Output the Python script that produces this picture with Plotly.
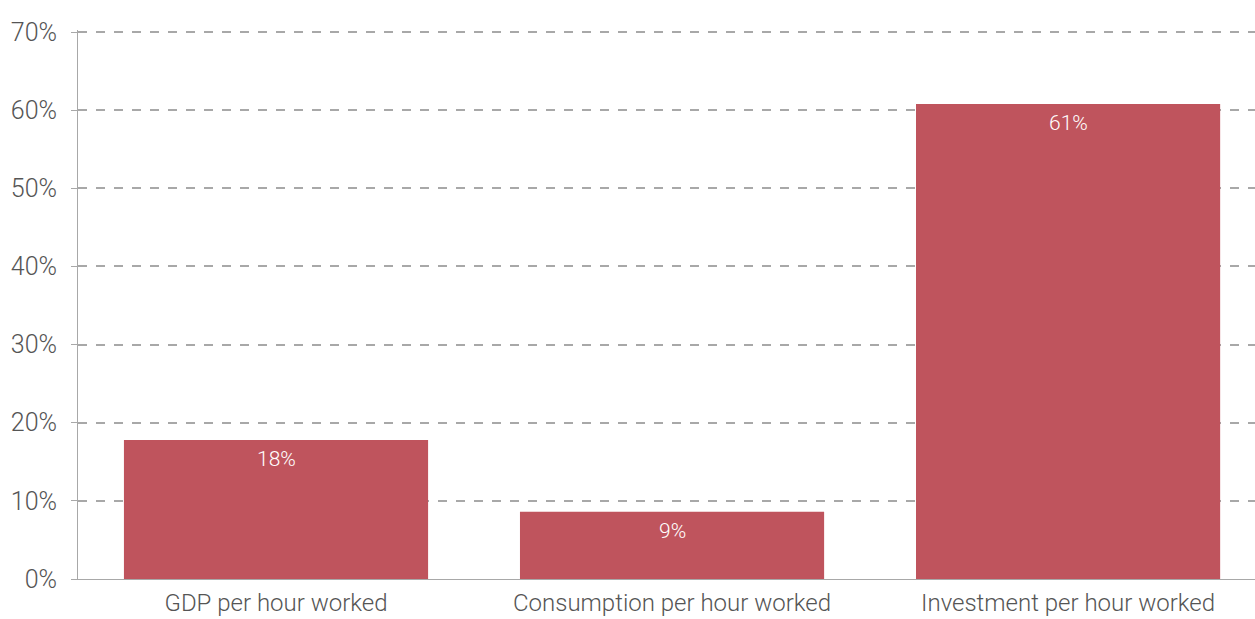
import plotly.graph_objects as go

categories = ["GDP per hour worked", "Consumption per hour worked", "Investment per hour worked"]
values = [17.8, 8.6, 60.8]
tick_vals = [0, 10, 20, 30, 40, 50, 60, 70]
tick_text = ["0%", "10%", "20%", "30%", "40%", "50%", "60%", "70%"]

bar_color = "#BF545D"
axis_color = "#A8A8A8"
text_color = "#555555"

fig = go.Figure(
    go.Bar(
        x=categories,
        y=values,
        width=0.768,
        marker=dict(color=bar_color, line=dict(width=0)),
        hoverinfo="skip",
    )
)

# value labels just under the top of each bar
for cat, val in zip(categories, values):
    fig.add_annotation(
        x=cat,
        y=val,
        text=f"{val:.0f}%",
        showarrow=False,
        yanchor="middle",
        yshift=-19,
        font=dict(family="Roboto", size=21, weight=300, color="white"),
    )

fig.update_layout(
    width=1255,
    height=619,
    margin=dict(l=78, r=0, t=30, b=40),
    paper_bgcolor="white",
    plot_bgcolor="white",
    showlegend=False,
    font=dict(family="Roboto", color=text_color, weight=300),
    xaxis=dict(
        type="category",
        range=[-0.5, 2.472],
        automargin=False,
        showline=True,
        linecolor=axis_color,
        linewidth=1,
        showgrid=False,
        ticks="",
        ticklabelstandoff=2,
        tickfont=dict(family="Roboto", size=24, weight=300, color=text_color),
    ),
    yaxis=dict(
        range=[0, 70.256],
        automargin=False,
        tickvals=tick_vals,
        ticktext=tick_text,
        showline=True,
        linecolor=axis_color,
        linewidth=1,
        ticks="outside",
        ticklen=6,
        tickcolor=axis_color,
        showgrid=True,
        gridcolor=axis_color,
        griddash="dash",
        gridwidth=1.5,
        zeroline=False,
        tickfont=dict(family="Roboto", size=25, weight=300, color=text_color),
        ticklabelstandoff=9,
    ),
)

fig.write_html("out.html")
